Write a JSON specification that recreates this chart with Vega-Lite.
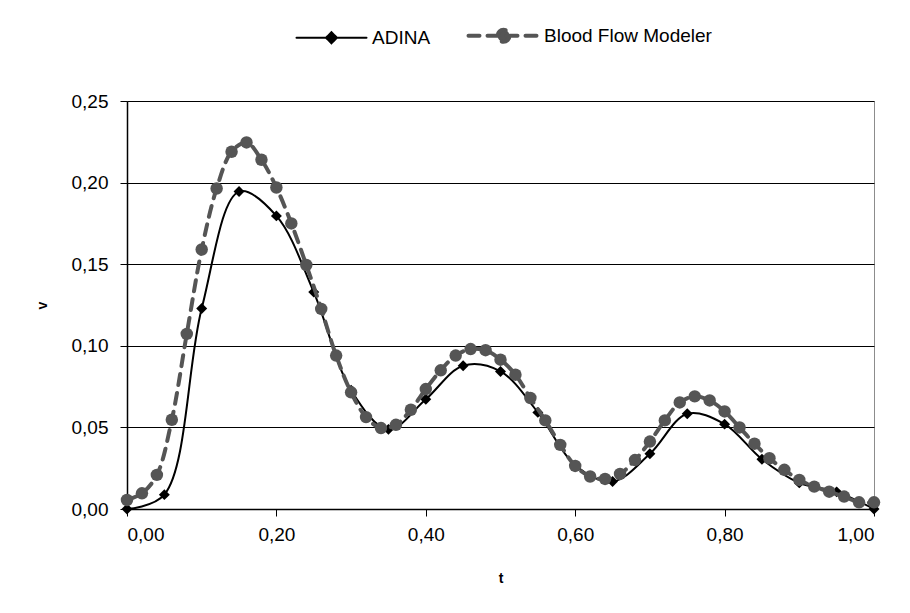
{
  "$schema": "https://vega.github.io/schema/vega-lite/v6.json",
  "width": 747,
  "height": 408,
  "autosize": {"type": "none"},
  "padding": {"left": 127, "top": 101, "right": 36, "bottom": 104},
  "background": "white",
  "config": {
    "font": "Liberation Sans",
    "view": {"stroke": "#8c8c8c", "strokeWidth": 1},
    "axis": {
      "labelFont": "Liberation Sans",
      "labelFontSize": 19,
      "labelColor": "#000",
      "titleFont": "Liberation Sans",
      "titleFontSize": 14,
      "titleFontWeight": "bold",
      "titleColor": "#000",
      "domainColor": "#000",
      "domainWidth": 1.5,
      "tickColor": "#000",
      "tickSize": 7,
      "tickWidth": 1
    }
  },
  "data": {
    "values": [
      {"series": "ADINA", "t": 0.00, "v": 0.0},
      {"series": "ADINA", "t": 0.05, "v": 0.0088},
      {"series": "ADINA", "t": 0.10, "v": 0.1229},
      {"series": "ADINA", "t": 0.15, "v": 0.1945},
      {"series": "ADINA", "t": 0.20, "v": 0.1796},
      {"series": "ADINA", "t": 0.25, "v": 0.1329},
      {"series": "ADINA", "t": 0.30, "v": 0.0728},
      {"series": "ADINA", "t": 0.35, "v": 0.0488},
      {"series": "ADINA", "t": 0.40, "v": 0.0672},
      {"series": "ADINA", "t": 0.45, "v": 0.0878},
      {"series": "ADINA", "t": 0.50, "v": 0.0843},
      {"series": "ADINA", "t": 0.55, "v": 0.0592},
      {"series": "ADINA", "t": 0.60, "v": 0.0268},
      {"series": "ADINA", "t": 0.65, "v": 0.0168},
      {"series": "ADINA", "t": 0.70, "v": 0.0338},
      {"series": "ADINA", "t": 0.75, "v": 0.0584},
      {"series": "ADINA", "t": 0.80, "v": 0.0520},
      {"series": "ADINA", "t": 0.85, "v": 0.0305},
      {"series": "ADINA", "t": 0.90, "v": 0.0160},
      {"series": "ADINA", "t": 0.95, "v": 0.0105},
      {"series": "ADINA", "t": 1.00, "v": 0.0},
      {"series": "Blood Flow Modeler", "t": 0.00, "v": 0.0055},
      {"series": "Blood Flow Modeler", "t": 0.02, "v": 0.0096},
      {"series": "Blood Flow Modeler", "t": 0.04, "v": 0.0209},
      {"series": "Blood Flow Modeler", "t": 0.06, "v": 0.0547},
      {"series": "Blood Flow Modeler", "t": 0.08, "v": 0.1073},
      {"series": "Blood Flow Modeler", "t": 0.10, "v": 0.159},
      {"series": "Blood Flow Modeler", "t": 0.12, "v": 0.1964},
      {"series": "Blood Flow Modeler", "t": 0.14, "v": 0.2189},
      {"series": "Blood Flow Modeler", "t": 0.16, "v": 0.2246},
      {"series": "Blood Flow Modeler", "t": 0.18, "v": 0.214},
      {"series": "Blood Flow Modeler", "t": 0.20, "v": 0.197},
      {"series": "Blood Flow Modeler", "t": 0.22, "v": 0.175},
      {"series": "Blood Flow Modeler", "t": 0.24, "v": 0.1495},
      {"series": "Blood Flow Modeler", "t": 0.26, "v": 0.1226},
      {"series": "Blood Flow Modeler", "t": 0.28, "v": 0.094},
      {"series": "Blood Flow Modeler", "t": 0.30, "v": 0.0715},
      {"series": "Blood Flow Modeler", "t": 0.32, "v": 0.0563},
      {"series": "Blood Flow Modeler", "t": 0.34, "v": 0.0496},
      {"series": "Blood Flow Modeler", "t": 0.36, "v": 0.0516},
      {"series": "Blood Flow Modeler", "t": 0.38, "v": 0.0608},
      {"series": "Blood Flow Modeler", "t": 0.40, "v": 0.0735},
      {"series": "Blood Flow Modeler", "t": 0.42, "v": 0.085},
      {"series": "Blood Flow Modeler", "t": 0.44, "v": 0.094},
      {"series": "Blood Flow Modeler", "t": 0.46, "v": 0.098},
      {"series": "Blood Flow Modeler", "t": 0.48, "v": 0.0973},
      {"series": "Blood Flow Modeler", "t": 0.50, "v": 0.0915},
      {"series": "Blood Flow Modeler", "t": 0.52, "v": 0.0823},
      {"series": "Blood Flow Modeler", "t": 0.54, "v": 0.068},
      {"series": "Blood Flow Modeler", "t": 0.56, "v": 0.0543},
      {"series": "Blood Flow Modeler", "t": 0.58, "v": 0.0393},
      {"series": "Blood Flow Modeler", "t": 0.60, "v": 0.0264},
      {"series": "Blood Flow Modeler", "t": 0.62, "v": 0.0199},
      {"series": "Blood Flow Modeler", "t": 0.64, "v": 0.0184},
      {"series": "Blood Flow Modeler", "t": 0.66, "v": 0.0215},
      {"series": "Blood Flow Modeler", "t": 0.68, "v": 0.030},
      {"series": "Blood Flow Modeler", "t": 0.70, "v": 0.0413},
      {"series": "Blood Flow Modeler", "t": 0.72, "v": 0.0543},
      {"series": "Blood Flow Modeler", "t": 0.74, "v": 0.0653},
      {"series": "Blood Flow Modeler", "t": 0.76, "v": 0.069},
      {"series": "Blood Flow Modeler", "t": 0.78, "v": 0.0665},
      {"series": "Blood Flow Modeler", "t": 0.80, "v": 0.0598},
      {"series": "Blood Flow Modeler", "t": 0.82, "v": 0.050},
      {"series": "Blood Flow Modeler", "t": 0.84, "v": 0.040},
      {"series": "Blood Flow Modeler", "t": 0.86, "v": 0.0311},
      {"series": "Blood Flow Modeler", "t": 0.88, "v": 0.024},
      {"series": "Blood Flow Modeler", "t": 0.90, "v": 0.0178},
      {"series": "Blood Flow Modeler", "t": 0.92, "v": 0.0137},
      {"series": "Blood Flow Modeler", "t": 0.94, "v": 0.0106},
      {"series": "Blood Flow Modeler", "t": 0.96, "v": 0.0076},
      {"series": "Blood Flow Modeler", "t": 0.98, "v": 0.0041},
      {"series": "Blood Flow Modeler", "t": 1.00, "v": 0.0041}
    ]
  },
  "encoding": {
    "x": {
      "field": "t", "type": "quantitative",
      "scale": {"domain": [0, 1], "nice": false, "zero": false},
      "axis": {
        "title": "t", "values": [0, 0.2, 0.4, 0.6, 0.8, 1.0],
        "labelExpr": "replace(format(datum.value, '.2f'), '.', ',')",
        "grid": false, "labelPadding": 9, "titlePadding": 27
      }
    },
    "y": {
      "field": "v", "type": "quantitative",
      "scale": {"domain": [0, 0.25], "nice": false},
      "axis": {
        "title": "v", "values": [0, 0.05, 0.1, 0.15, 0.2, 0.25],
        "labelExpr": "replace(format(datum.value, '.2f'), '.', ',')",
        "grid": true, "gridColor": "#000", "gridWidth": 1, "gridOpacity": 1,
        "labelPadding": 12, "titlePadding": 22
      }
    }
  },
  "layer": [
    {
      "transform": [{"filter": "datum.series === 'ADINA'"}],
      "mark": {"type": "line", "interpolate": "catmull-rom", "strokeWidth": 2},
      "encoding": {
        "color": {
          "field": "series", "type": "nominal",
          "scale": {"domain": ["ADINA", "Blood Flow Modeler"], "range": ["#000000", "#555555"]},
          "legend": {
            "orient": "none", "legendX": 195, "legendY": -75,
            "direction": "horizontal", "title": null,
            "symbolSize": 4900, "symbolType": "M-1,0H1",
            "labelFont": "Liberation Sans", "labelFontSize": 19, "labelColor": "#000",
            "labelOffset": 31, "columnPadding": 29, "labelLimit": 0,
            "encode": {
              "symbols": {
                "update": {
                  "shape": {"signal": "datum.value === 'ADINA' ? 'M-1,0H1M0,-0.157L0.157,0L0,0.157L-0.157,0Z' : 'M-1,0H1M0.17,0A0.17,0.17,0,1,1,-0.17,0A0.17,0.17,0,1,1,0.17,0Z'"},
                  "fill": {"signal": "datum.value === 'ADINA' ? '#000000' : '#555555'"},
                  "stroke": {"signal": "datum.value === 'ADINA' ? '#000000' : '#555555'"},
                  "strokeWidth": {"signal": "datum.value === 'ADINA' ? 2 : 4"},
                  "strokeDash": {"signal": "datum.value === 'ADINA' ? [1, 0] : [11, 8]"},
                  "strokeCap": {"value": "round"},
                  "opacity": {"value": 1},
                  "fillOpacity": {"value": 1}
                }
              }
            }
          }
        }
      }
    },
    {
      "transform": [{"filter": "datum.series === 'ADINA'"}],
      "mark": {"type": "point", "shape": "diamond", "filled": true, "size": 120, "opacity": 1, "clip": false},
      "encoding": {"color": {"field": "series", "type": "nominal", "legend": null}}
    },
    {
      "transform": [{"filter": "datum.series === 'Blood Flow Modeler'"}],
      "mark": {"type": "line", "interpolate": "catmull-rom", "strokeWidth": 4, "strokeDash": [11, 8], "strokeCap": "round"},
      "encoding": {"color": {"field": "series", "type": "nominal", "legend": null}}
    },
    {
      "transform": [{"filter": "datum.series === 'Blood Flow Modeler'"}],
      "mark": {"type": "point", "shape": "circle", "filled": true, "size": 155, "opacity": 1, "clip": false},
      "encoding": {"color": {"field": "series", "type": "nominal", "legend": null}}
    }
  ]
}
